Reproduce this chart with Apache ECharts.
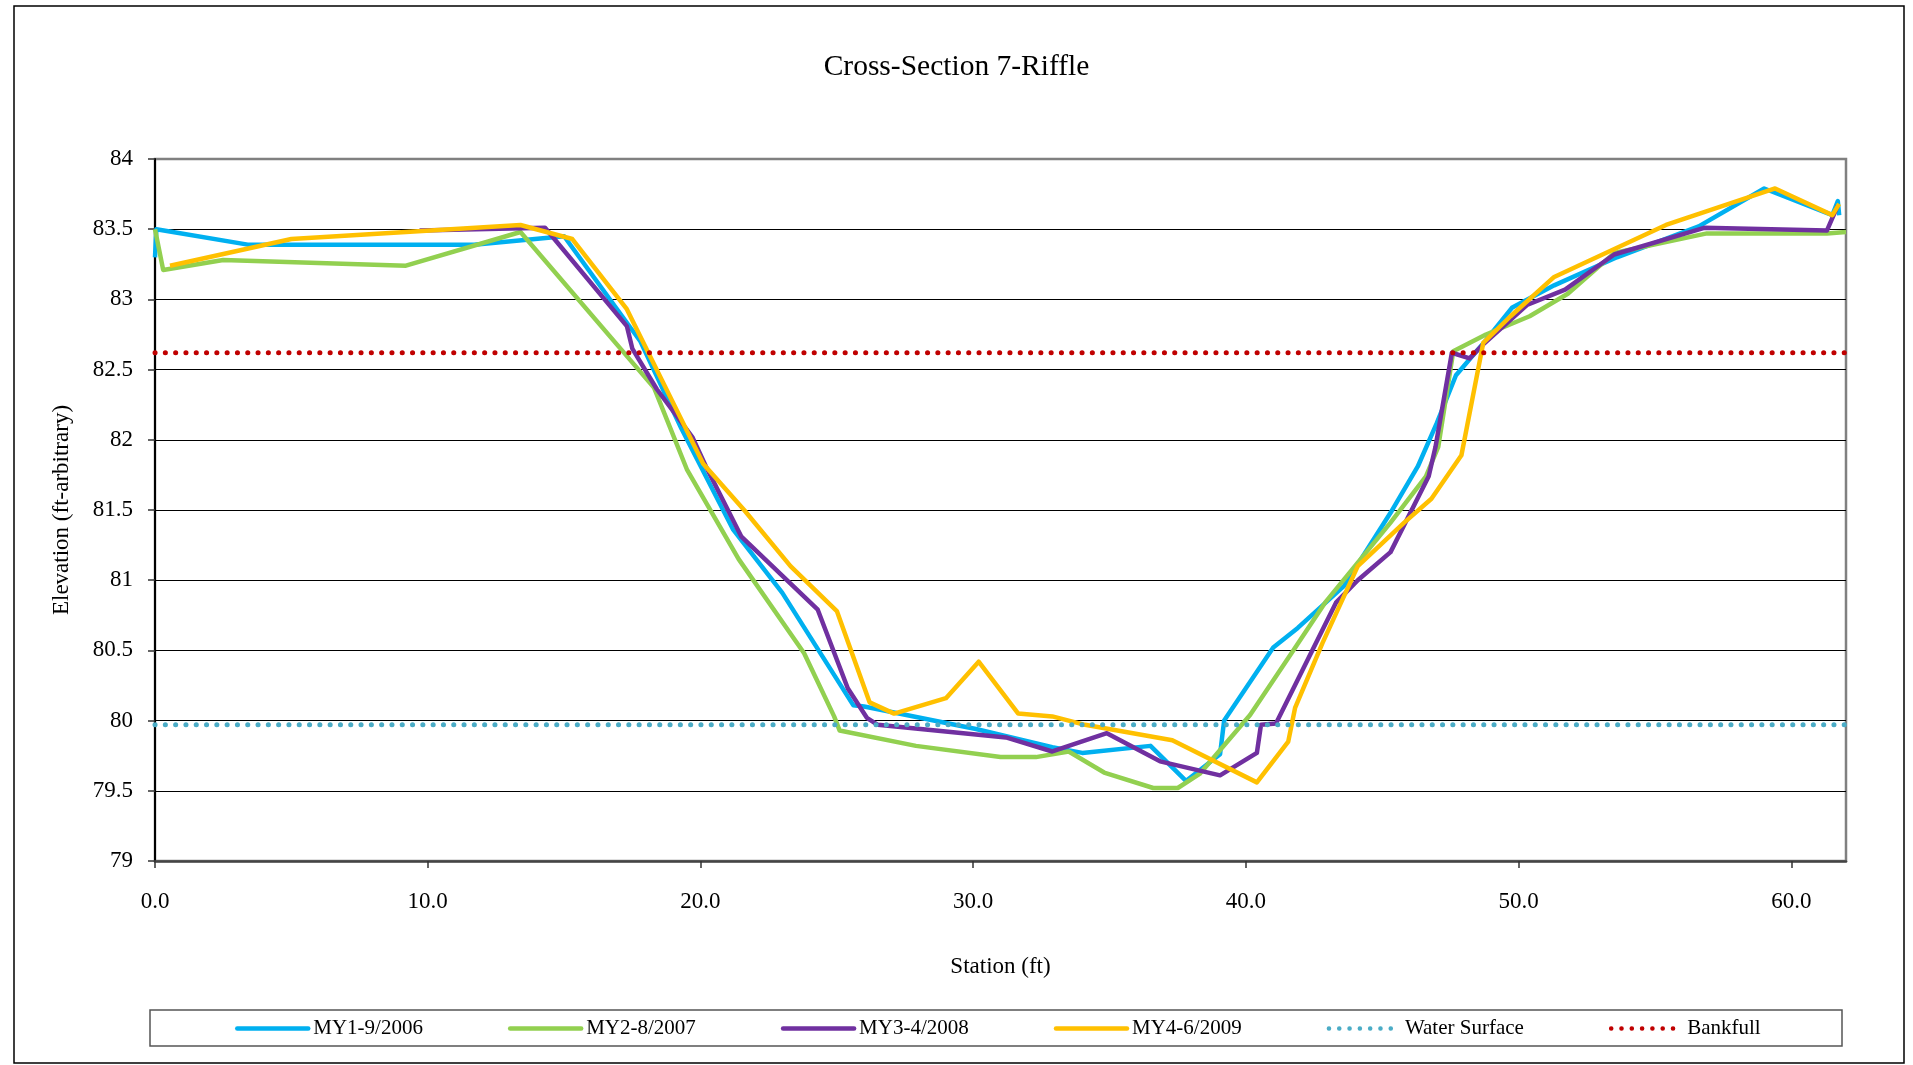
<!DOCTYPE html>
<html>
<head>
<meta charset="utf-8">
<script src="https://cdn.jsdelivr.net/npm/echarts@6/dist/echarts.min.js"></script>
<style>
html,body{margin:0;padding:0;background:#fff;}
#chart{width:1913px;height:1065px;}
</style>
</head>
<body>
<div id="chart"></div>
<script>
// ---- Data (station ft, elevation ft) ----
const titleText = 'Cross-Section 7-Riffle';
const seriesNames = ['MY1-9/2006', 'MY2-8/2007', 'MY3-4/2008', 'MY4-6/2009', 'Water Surface', 'Bankfull'];
const xTicks = [0, 10, 20, 30, 40, 50, 60];

const my1 = [[0,83.3],[0.05,83.5],[3.4,83.39],[11.7,83.39],[15.0,83.45],[17.8,82.7],[19.3,82.08],[21.2,81.36],[23.0,80.91],[25.6,80.11],[26.0,80.1],[30.1,79.94],[32.9,79.81],[34.0,79.77],[36.5,79.82],[37.8,79.57],[39.05,79.76],[39.2,80.0],[41.0,80.52],[41.9,80.66],[43.6,80.96],[45.3,81.48],[46.3,81.81],[47.0,82.12],[47.7,82.46],[48.8,82.71],[49.75,82.94],[51.3,83.1],[53.6,83.3],[56.6,83.52],[59.0,83.79],[61.5,83.6],[61.7,83.7],[61.75,83.6]];

const my2 = [[0,83.5],[0.3,83.21],[2.5,83.28],[9.2,83.24],[13.4,83.48],[18.3,82.37],[19.5,81.79],[21.4,81.15],[23.8,80.48],[24.9,80.03],[25.1,79.93],[27.9,79.82],[31.0,79.74],[32.3,79.74],[33.5,79.78],[34.8,79.63],[36.6,79.52],[37.5,79.52],[38.3,79.62],[40.15,80.04],[41.6,80.46],[42.9,80.84],[45.3,81.41],[46.6,81.74],[47.05,81.95],[47.6,82.63],[48.8,82.75],[50.4,82.88],[51.8,83.04],[53.5,83.33],[56.9,83.47],[61.3,83.47],[62.0,83.48]];

const my3 = [[9.7,83.49],[14.3,83.51],[17.3,82.81],[17.5,82.65],[18.4,82.36],[19.7,82.02],[20.2,81.81],[21.5,81.31],[24.3,80.79],[25.4,80.23],[26.1,80.02],[26.5,79.97],[31.2,79.88],[32.9,79.78],[34.9,79.91],[36.85,79.71],[39.05,79.61],[40.4,79.77],[40.55,79.97],[41.1,79.98],[43.3,80.84],[44.1,81.0],[45.3,81.2],[46.7,81.74],[46.95,81.95],[47.55,82.62],[48.2,82.58],[48.7,82.68],[50.3,82.96],[51.7,83.07],[53.5,83.32],[56.8,83.51],[61.3,83.49],[61.7,83.67]];

const my4 = [[0.55,83.24],[5.0,83.43],[13.4,83.53],[15.3,83.43],[17.3,82.93],[20.1,81.83],[21.6,81.5],[23.3,81.1],[25.0,80.78],[26.2,80.13],[27.1,80.05],[29.0,80.16],[30.2,80.42],[31.65,80.05],[32.9,80.03],[34.1,79.97],[37.3,79.86],[40.4,79.56],[41.55,79.85],[41.8,80.09],[42.8,80.55],[44.1,81.1],[45.8,81.41],[46.8,81.58],[47.9,81.89],[48.7,82.69],[49.7,82.88],[51.3,83.16],[55.4,83.53],[59.4,83.79],[61.5,83.6],[61.75,83.68]];

const waterSurfaceElev = 79.97;
const bankfullElev = 82.62;
const stationRange = [0, 62];

// ---- Chart ----
const FONT = "'Liberation Serif', 'Times New Roman', serif";
const colors = ['#00B0F0', '#92D050', '#7030A0', '#FFC000', '#4BACC6', '#C00000'];
const chart = echarts.init(document.getElementById('chart'), null, {renderer: 'canvas'});

function lineSeries(name, data, color) {
  return {
    name: name, type: 'line', data: data, symbol: 'none', showSymbol: false,
    lineStyle: {color: color, width: 4.5, join: 'round'},
    itemStyle: {color: color},
    animation: false
  };
}
function refSeries(name, elev, color) {
  return {
    name: name, type: 'line', symbol: 'none', showSymbol: false,
    data: [[stationRange[0], elev], [stationRange[1], elev]],
    lineStyle: {color: color, width: 5, type: [0.1, 10.2], cap: 'round'},
    itemStyle: {color: color},
    animation: false
  };
}

const option = {
  animation: false,
  backgroundColor: '#fff',
  textStyle: {fontFamily: FONT, color: '#000'},
  title: {
    text: titleText, left: 'center', top: 52, padding: 0,
    textStyle: {fontFamily: FONT, fontSize: 29.5, fontWeight: 'normal', color: '#000'}
  },
  grid: {
    left: 155, right: 67, top: 159, bottom: 204,
    show: true, borderColor: '#808080', borderWidth: 2.5, backgroundColor: 'transparent'
  },
  legend: {
    left: 235, top: 1018, padding: 0, itemGap: 85, itemWidth: 71, itemHeight: 14,
    data: seriesNames,
    itemStyle: {opacity: 0},
    lineStyle: {width: 4.5, cap: 'round'},
    textStyle: {fontFamily: FONT, fontSize: 21, color: '#000', padding: [0,0,0,0]},
    selectedMode: false
  },
  xAxis: {
    type: 'value', min: stationRange[0], max: stationRange[1], interval: 10,
    name: 'Station (ft)', nameLocation: 'middle', nameGap: 94,
    nameTextStyle: {fontFamily: FONT, fontSize: 23, color: '#000'},
    axisLine: {show: true, lineStyle: {color: '#444', width: 2.5}},
    axisTick: {show: true, inside: false, length: 7, lineStyle: {color: '#333', width: 1.5}, customValues: xTicks},
    axisLabel: {fontFamily: FONT, fontSize: 23, color: '#000', margin: 29,
      customValues: xTicks, formatter: v => v.toFixed(1)},
    splitLine: {show: false}
  },
  yAxis: {
    type: 'value', min: 79, max: 84, interval: 0.5,
    name: 'Elevation (ft-arbitrary)', nameLocation: 'middle', nameGap: 82, nameRotate: 90,
    nameTextStyle: {fontFamily: FONT, fontSize: 23, color: '#000'},
    axisLine: {show: true, lineStyle: {color: '#000', width: 2}},
    axisTick: {show: true, inside: false, length: 7, lineStyle: {color: '#333', width: 1.5}},
    axisLabel: {fontFamily: FONT, fontSize: 23, color: '#000', margin: 22},
    splitLine: {show: true, showMinLine: false, showMaxLine: false, lineStyle: {color: '#000', width: 1.2}}
  },
  graphic: [
    {type: 'rect', shape: {x: 14, y: 6, width: 1890, height: 1057}, style: {fill: 'none', stroke: '#000', lineWidth: 1.5}, silent: true, z: -10},
    {type: 'rect', shape: {x: 150, y: 1010, width: 1692, height: 36}, style: {fill: 'none', stroke: '#555', lineWidth: 1.5}, silent: true, z: -10}
  ],
  series: [
    lineSeries(seriesNames[0], my1, colors[0]),
    lineSeries(seriesNames[1], my2, colors[1]),
    lineSeries(seriesNames[2], my3, colors[2]),
    lineSeries(seriesNames[3], my4, colors[3]),
    refSeries(seriesNames[4], waterSurfaceElev, colors[4]),
    refSeries(seriesNames[5], bankfullElev, colors[5])
  ]
};
chart.setOption(option);
</script>
</body>
</html>
